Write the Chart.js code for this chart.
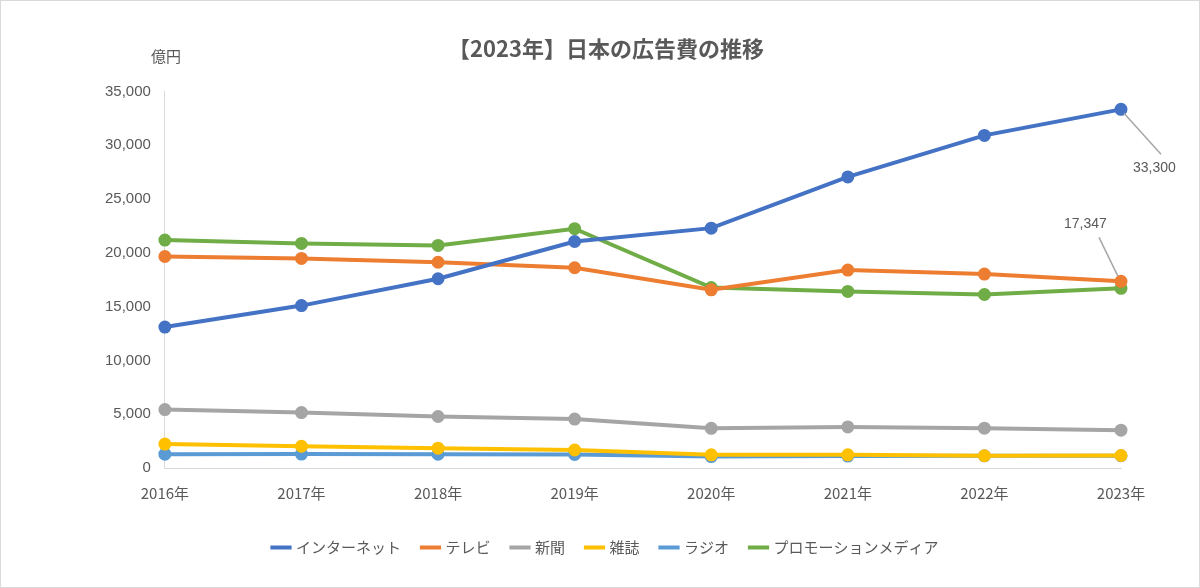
<!DOCTYPE html>
<html>
<head>
<meta charset="utf-8">
<script src="https://cdn.jsdelivr.net/npm/chart.js@4"></script>
<style>
html, body { margin: 0; padding: 0; background: #fff; }
#wrap { position: absolute; left: 0; top: 0; width: 1198px; height: 586px; border: 1px solid #d9d9d9; }
</style>
</head>
<body>
<div id="wrap"><canvas id="c" width="1198" height="586"></canvas></div>
<script>
var years = ["2016年", "2017年", "2018年", "2019年", "2020年", "2021年", "2022年", "2023年"];
var internet = [13100, 15094, 17589, 21048, 22290, 27052, 30912, 33330];
var tv = [19657, 19478, 19123, 18612, 16559, 18393, 18019, 17347];
var newspaper = [5431, 5147, 4784, 4547, 3688, 3815, 3697, 3512];
var magazine = [2223, 2023, 1841, 1675, 1223, 1224, 1140, 1163];
var radio = [1285, 1290, 1278, 1260, 1066, 1106, 1129, 1139];
var promo = [21184, 20875, 20685, 22239, 16768, 16408, 16124, 16700];

function ds(label, data, color) {
    return {
        label: label, data: data, borderColor: color, backgroundColor: color,
        borderWidth: 4, pointRadius: 4.5, pointHoverRadius: 4.5, fill: false, tension: 0
    };
}

// 単位と注記ラベル
var extras = {
    id: "extras",
    afterDraw: function(chart) {
        var ctx = chart.ctx;
        var x = chart.scales.x, y = chart.scales.y;
        ctx.save();
        ctx.fillStyle = "#595959";
        ctx.font = "15px 'Noto Sans CJK JP'";
        ctx.textAlign = "left";
        ctx.textBaseline = "middle";
        ctx.fillText("億円", 150, 55);

        var px = x.getPixelForValue(7);
        var pi = y.getPixelForValue(internet[7]);
        var pt = y.getPixelForValue(tv[7]);
        ctx.strokeStyle = "#a6a6a6";
        ctx.lineWidth = 1.5;
        ctx.beginPath();
        ctx.moveTo(px + 3, pi + 4);
        ctx.lineTo(px + 40, pi + 45);
        ctx.stroke();
        ctx.beginPath();
        ctx.moveTo(px - 3, pt - 5);
        ctx.lineTo(px - 22, pt - 44);
        ctx.stroke();
        ctx.font = "14px 'Liberation Sans'";
        ctx.fillText("33,300", px + 12, pi + 59);
        ctx.fillText("17,347", px - 57, pt - 57);
        ctx.restore();
    }
};

new Chart("c", {
    type: "line",
    data: {
        labels: years,
        datasets: [
            ds("インターネット", internet, "#4472C4"),
            ds("テレビ", tv, "#ED7D31"),
            ds("新聞", newspaper, "#A5A5A5"),
            ds("雑誌", magazine, "#FFC000"),
            ds("ラジオ", radio, "#5B9BD5"),
            ds("プロモーションメディア", promo, "#70AD47")
        ]
    },
    options: {
        responsive: false,
        animation: false,
        layout: { padding: { left: 90, right: 78, top: 8, bottom: 22 } },
        plugins: {
            title: {
                display: true,
                text: "【2023年】日本の広告費の推移",
                color: "#595959",
                font: { size: 22, weight: "bold", family: "'Noto Sans CJK JP'" },
                padding: { top: 26, bottom: 30 }
            },
            legend: {
                position: "bottom",
                labels: {
                    color: "#595959",
                    font: { size: 15, family: "'Noto Sans CJK JP'" },
                    usePointStyle: true,
                    pointStyle: "line",
                    boxWidth: 40,
                    padding: 22
                }
            },
            tooltip: { enabled: false }
        },
        scales: {
            x: {
                grid: { display: false, drawTicks: false },
                border: { color: "#d9d9d9" },
                ticks: { color: "#595959", maxRotation: 0, font: { size: 15, family: "'Noto Sans CJK JP'" }, padding: 16 }
            },
            y: {
                min: 0, max: 35000,
                grid: { display: false, drawTicks: false },
                border: { color: "#d9d9d9" },
                ticks: {
                    stepSize: 5000, color: "#595959", padding: 14,
                    font: { size: 15, family: "'Liberation Sans'" },
                    callback: function(v) { return v.toLocaleString("en-US"); }
                }
            }
        }
    },
    plugins: [extras]
});
</script>
</body>
</html>
